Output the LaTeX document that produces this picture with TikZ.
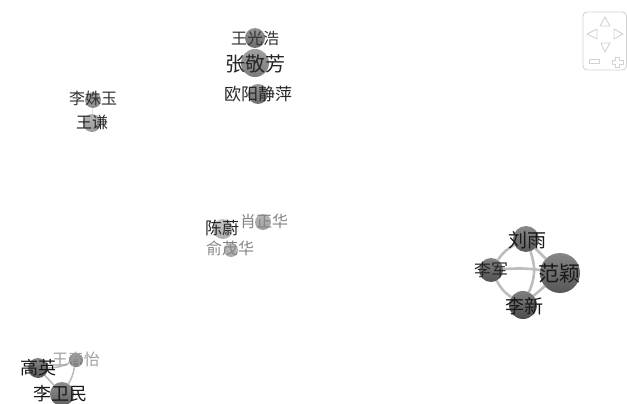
\documentclass[tikz,border=0pt]{standalone}
\usepackage{fontspec}
\newfontfamily\cjk{Noto Sans CJK SC}
\usetikzlibrary{backgrounds}
\definecolor{linkc}{gray}{0.74}
\definecolor{ctrl}{gray}{0.82}
\tikzset{
  ball/.style 2 args={circle,inner sep=0pt,minimum size=#1*2pt,draw=none,
    top color=black!#2!white!72!white,bottom color=black!#2!white},
  lab/.style 2 args={inner sep=0pt,font=\cjk\fontsize{#1}{#1}\selectfont,text=black!#2},
  link/.style={draw=linkc,line width=2.6pt},
  thinlink/.style={draw=linkc,line width=1.6pt},
  faint/.style={draw=linkc!60,line width=0.6pt},
  ctrlline/.style={draw=ctrl,line width=0.9pt,line join=round}
}
\begin{document}
\begin{tikzpicture}[x=1pt,y=-1pt]
\useasboundingbox (0,0) rectangle (627,404);
% circles
\node[ball={10}{58}] (wgh) at (255,38) {};
\node[ball={14}{52}] (zjf) at (255,63) {};
\node[ball={10}{56}] (oy) at (258,94) {};
\node[ball={8}{46}] (lsy) at (93,100) {};
\node[ball={9}{40}] (wq) at (92,123) {};
\node[ball={10}{32}] (cw) at (223,229) {};
\node[ball={8}{38}] (xzh) at (263,222) {};
\node[ball={7}{34}] (ymh) at (231,250) {};
\node[ball={13}{64}] (ly) at (526,239) {};
\node[ball={12}{68}] (lj) at (491,270) {};
\node[ball={20}{66}] (fy) at (560,273) {};
\node[ball={14}{70}] (lx) at (523,305) {};
\node[ball={10}{66}] (gy) at (38,368) {};
\node[ball={7}{56}] (wcy) at (76,360) {};
\node[ball={12}{62}] (lwm) at (62,394) {};
% connectors
\begin{scope}[on background layer]
\path[link] (ly) to[bend right=14] (lj);
\path[link] (lj) to[bend right=14] (lx);
\path[link] (ly) to[bend left=22] (lx);
\path[link] (lj) to[bend left=6] (fy);
\path[link] (ly) -- (fy);
\path[link] (lx) -- (fy);
\path[thinlink] (gy) to[bend right=12] (wcy);
\path[thinlink] (gy) -- (lwm);
\path[thinlink] (wcy) to[bend left=10] (lwm);
\path[faint] (lsy) -- (wq);
\end{scope}
% labels
\node[lab={16}{80}] (twgh) at (255,38) {王光浩};
\node[lab={20}{85}] (tzjf) at (255,64) {张敬芳};
\node[lab={17}{85}] (toy) at (258,94) {欧阳静萍};
\node[lab={16}{80}] (tlsy) at (93,98) {李姝玉};
\node[lab={16}{85}] (twq) at (92,122) {王谦};
\node[lab={17}{85}] (tcw) at (222,228) {陈蔚};
\node[lab={16}{48}] (txzh) at (264,221) {肖正华};
\node[lab={16}{48}] (tymh) at (230,248) {俞茂华};
\node[lab={19}{90}] (tly) at (527,240) {刘雨};
\node[lab={17}{85}] (tlj) at (491,270) {李军};
\node[lab={21}{90}] (tfy) at (559,274) {范颖};
\node[lab={19}{90}] (tlx) at (524,306) {李新};
\node[lab={18}{90}] (tgy) at (38,368) {高英};
\node[lab={16}{38}] (twcy) at (76,359) {王春怡};
\node[lab={18}{90}] (tlwm) at (61,394) {李卫民};
% zoom control
\draw[ctrlline,rounded corners=4pt] (583,12) rectangle (626.5,70);
\draw[ctrlline] (605,17) -- (600,26) -- (610,26) -- cycle;
\draw[ctrlline] (587,34) -- (597,29) -- (597,39) -- cycle;
\draw[ctrlline] (623,34) -- (614,29) -- (614,39) -- cycle;
\draw[ctrlline] (605,52) -- (601,43) -- (610,43) -- cycle;
\draw[ctrlline] (589,59) rectangle (599,63);
\draw[ctrlline] (612,60) -- (615.5,60) -- (615.5,57) -- (619.5,57) -- (619.5,60) -- (623,60) -- (623,64) -- (619.5,64) -- (619.5,67) -- (615.5,67) -- (615.5,64) -- (612,64) -- cycle;
\end{tikzpicture}
\end{document}
